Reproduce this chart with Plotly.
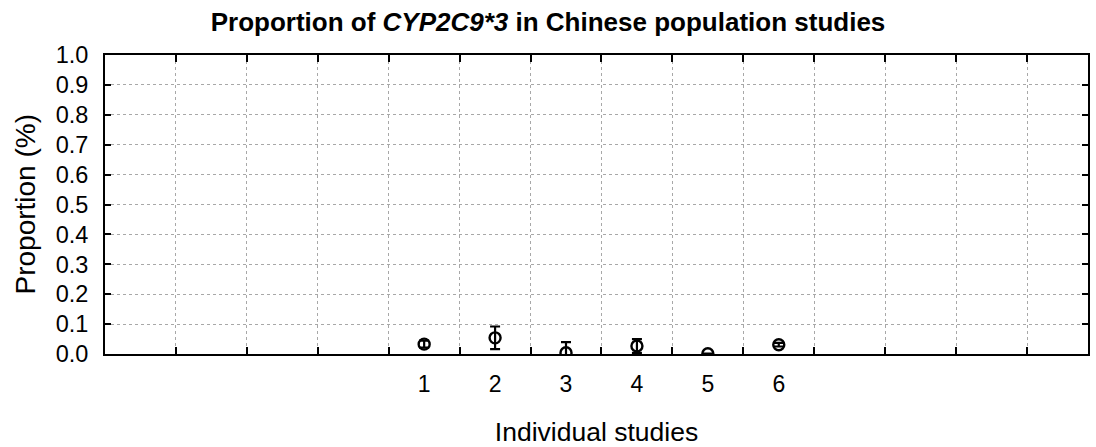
import plotly.graph_objects as go

# ---- data ----
studies = [1, 2, 3, 4, 5, 6]
study_labels = ["1", "2", "3", "4", "5", "6"]
proportion = [0.033, 0.054, 0.004, 0.027, 0.001, 0.031]
error = [0.012, 0.038, 0.036, 0.023, 0.0, 0.006]
y_ticks = [0.0, 0.1, 0.2, 0.3, 0.4, 0.5, 0.6, 0.7, 0.8, 0.9, 1.0]
x_grid_ticks = [-2.5, -1.5, -0.5, 0.5, 1.5, 2.5, 3.5, 4.5, 5.5, 6.5, 7.5, 8.5, 9.5]

x_range = [-3.5, 10.36]
FONT = "Liberation Sans, Arial, sans-serif"

fig = go.Figure()
fig.add_trace(go.Scatter(
    x=studies, y=proportion,
    mode="markers",
    marker=dict(symbol="circle-open", size=11, color="black", line=dict(width=2.4, color="black")),
    error_y=dict(type="data", array=error, visible=True, color="black", thickness=2.2, width=5),
    showlegend=False, hoverinfo="skip",
))

fig.update_layout(
    width=1096, height=447,
    margin=dict(l=105, r=8, t=55, b=93),
    paper_bgcolor="white", plot_bgcolor="white",
    font=dict(family=FONT, color="black"),
    title=dict(
        text="<b>Proportion of <i>CYP2C9*3</i> in Chinese population studies</b>",
        x=0.5, xanchor="center", y=1 - 22 / 447, yanchor="middle", yref="container",
        font=dict(size=26, family=FONT, color="black"),
    ),
    xaxis=dict(
        range=x_range, tickmode="array", tickvals=studies, ticktext=study_labels,
        ticks="", showgrid=False, automargin=False,
        tickfont=dict(size=23, family=FONT), ticklabelstandoff=8,
        minor=dict(
            tickmode="array", tickvals=x_grid_ticks,
            ticks="inside", ticklen=7, tickwidth=2, tickcolor="black",
            showgrid=True, gridcolor="#a8a8a8", gridwidth=1, griddash="dot",
        ),
        showline=True, linewidth=2, linecolor="black", mirror="ticks",
        zeroline=False,
        title=dict(text="Individual studies", font=dict(size=26.5, family=FONT), standoff=31),
    ),
    yaxis=dict(
        range=[0, 1], tickmode="array", tickvals=y_ticks, tickformat=".1f",
        ticks="inside", ticklen=6, tickwidth=2, tickcolor="black",
        showline=True, linewidth=2, linecolor="black", mirror="ticks",
        showgrid=True, gridcolor="#a8a8a8", gridwidth=1, griddash="dot",
        zeroline=False, tickfont=dict(size=23.5, family=FONT), ticklabelstandoff=10,
        automargin=False,
    ),
    annotations=[dict(
        text="Proportion (%)", textangle=-90, showarrow=False,
        xref="paper", yref="paper", x=0, y=0.5, xanchor="center", yanchor="middle",
        xshift=-80, font=dict(size=28, family=FONT, color="black"),
    )],
)

fig.write_html("out.html")
